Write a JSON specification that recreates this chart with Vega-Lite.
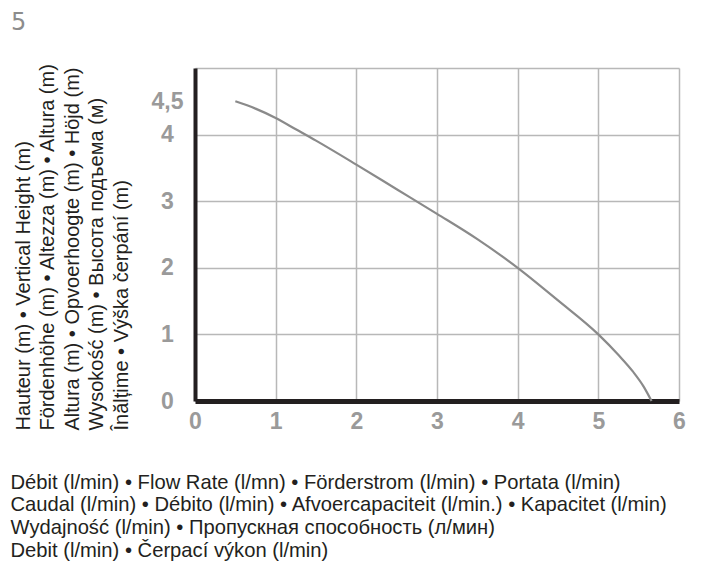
{
  "$schema": "https://vega.github.io/schema/vega-lite/v6.json",
  "autosize": "none",
  "padding": {"left": 195, "top": 68, "right": 22, "bottom": 163},
  "width": 484,
  "height": 333,
  "background": "white",
  "title": {
    "text": "5",
    "anchor": "start",
    "frame": "bounds",
    "orient": "top",
    "baseline": "alphabetic",
    "offset": 7,
    "dx": 1,
    "font": "DejaVu Sans",
    "fontSize": 24,
    "fontWeight": "normal",
    "color": "#8c8c8c"
  },
  "config": {
    "view": {"stroke": null},
    "axis": {
      "labelFont": "Liberation Sans",
      "labelFontWeight": "bold",
      "labelFontSize": 23,
      "labelColor": "#9a9a9a",
      "titleFont": "Liberation Sans",
      "titleFontWeight": "normal",
      "titleColor": "#231f20",
      "gridColor": "#b8b8b8",
      "gridWidth": 1.5,
      "domainColor": "#231f20",
      "ticks": false
    }
  },
  "data": {
    "values": [
      {"flow": 0.5, "height": 4.5},
      {"flow": 0.75, "height": 4.39},
      {"flow": 1.0, "height": 4.25},
      {"flow": 1.25, "height": 4.08},
      {"flow": 1.5, "height": 3.91},
      {"flow": 2.0, "height": 3.55},
      {"flow": 2.5, "height": 3.18},
      {"flow": 3.0, "height": 2.81},
      {"flow": 3.5, "height": 2.43},
      {"flow": 4.0, "height": 2.0},
      {"flow": 4.5, "height": 1.51},
      {"flow": 5.0, "height": 1.0},
      {"flow": 5.25, "height": 0.69},
      {"flow": 5.43, "height": 0.44},
      {"flow": 5.56, "height": 0.22},
      {"flow": 5.66, "height": 0.0}
    ]
  },
  "mark": {"type": "line", "color": "#8a8a8a", "strokeWidth": 2.2, "interpolate": "monotone", "clip": false},
  "encoding": {
    "x": {
      "field": "flow",
      "type": "quantitative",
      "scale": {"domain": [0, 6], "nice": false, "zero": false},
      "axis": {
        "values": [0, 1, 2, 3, 4, 5, 6],
        "format": "d",
        "labelAlign": "center",
        "labelBaseline": "top",
        "labelPadding": 9,
        "domainWidth": 5,
        "grid": true,
        "title": [
          "Débit (l/min) • Flow Rate (l/mn) • Förderstrom (l/min) • Portata (l/min)",
          "Caudal (l/min) • Débito (l/min) • Afvoercapaciteit (l/min.) • Kapacitet (l/min)",
          "Wydajność (l/min) • Пропускная способность (л/мин)",
          "Debit (l/min) • Čerpací výkon (l/min)"
        ],
        "titleFontSize": 20.2,
        "titleX": -185,
        "titleY": 87,
        "titleAlign": "left",
        "titleAnchor": null,
        "titleBaseline": "alphabetic",
        "titleLineHeight": 22.9
      }
    },
    "y": {
      "field": "height",
      "type": "quantitative",
      "scale": {"domain": [0, 5], "nice": false, "zero": false},
      "axis": {
        "values": [0, 1, 2, 3, 4, 4.5, 5],
        "labelExpr": "datum.value == 5 ? '' : replace(format(datum.value, '~g'), '.', ',')",
        "labelAlign": "center",
        "labelBaseline": "middle",
        "labelPadding": 28,
        "domainWidth": 4,
        "grid": true,
        "gridOpacity": {"condition": {"test": "datum.value == 4.5", "value": 0}, "value": 1},
        "title": [
          "Hauteur (m) • Vertical Height (m)",
          "Fördenhöhe (m) • Altezza (m) • Altura (m)",
          "Altura (m) • Opvoerhoogte (m) • Höjd (m)",
          "Wysokość (m) • Высота подъема  (м)",
          "Înălțime • Výška čerpání (m)"
        ],
        "titleFontSize": 20,
        "titleAngle": 270,
        "titleAlign": "left",
        "titleAnchor": null,
        "titleBaseline": "top",
        "titleX": -182,
        "titleY": 362,
        "titleLineHeight": 24.5
      }
    }
  }
}
